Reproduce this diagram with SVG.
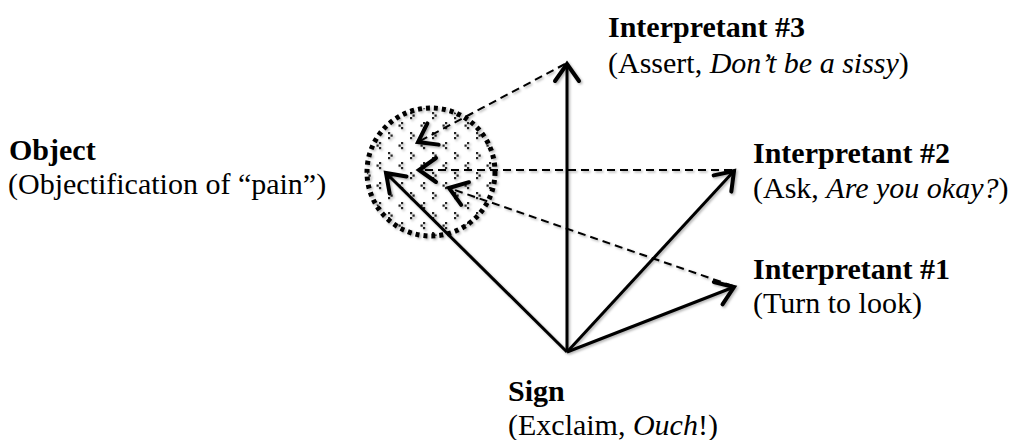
<svg xmlns="http://www.w3.org/2000/svg" width="1015" height="440" viewBox="0 0 1015 440">
<style>
.t{font-family:"Liberation Serif","Times New Roman",serif;font-size:30px;fill:#000}
.b{font-weight:bold}
.i{font-style:italic}
.solid{stroke:#000;stroke-width:3;fill:none;marker-end:url(#ah)}
.dash{stroke:#000;stroke-width:2;stroke-dasharray:8 5;fill:none;marker-end:url(#ah)}
</style>
<defs>
<marker id="ah" markerUnits="userSpaceOnUse" viewBox="-20 -15 24 30" markerWidth="24" markerHeight="30" refX="0" refY="0" orient="auto">
<path d="M -17 -12 L 0 0 L -17 12" fill="none" stroke="#000" stroke-width="4" stroke-linecap="round" stroke-linejoin="miter"/>
</marker>
<pattern id="dots" patternUnits="userSpaceOnUse" width="22" height="20">
<rect x="5" y="2" width="2.2" height="2.2" fill="#222"/>
<rect x="2.5" y="4.5" width="2.2" height="2.2" fill="#222"/>
<rect x="5" y="7" width="2.2" height="2.2" fill="#222"/>
<rect x="14" y="12" width="2.2" height="2.2" fill="#222"/>
<rect x="16.5" y="14.5" width="2.2" height="2.2" fill="#222"/>
<rect x="14" y="17" width="2.2" height="2.2" fill="#222"/>
</pattern>
<filter id="sh" x="-10%" y="-10%" width="130%" height="130%">
<feDropShadow dx="1.5" dy="1.5" stdDeviation="1.2" flood-color="#000" flood-opacity="0.3"/>
</filter>
</defs>
<g id="object-circle" filter="url(#sh)">
<circle cx="431" cy="172" r="64" fill="url(#dots)" stroke="#000" stroke-width="5" stroke-dasharray="4 4"/>
</g>
<g id="connectors" filter="url(#sh)">
<line class="solid" x1="567" y1="352" x2="567" y2="64"/>
<line class="solid" x1="567" y1="352" x2="734" y2="171"/>
<line class="solid" x1="567" y1="352" x2="734" y2="287"/>
<line class="solid" x1="567" y1="352" x2="386" y2="173"/>
<line class="dash" x1="565" y1="64" x2="418" y2="142"/>
<line class="dash" x1="732" y1="170" x2="419" y2="170"/>
<line class="dash" x1="733" y1="286" x2="449" y2="188"/>
</g>
<g id="interpretant3">
<text class="t b" x="608" y="37">Interpretant #3</text>
<text class="t" x="608" y="73">(Assert, <tspan class="i">Don’t be a sissy</tspan>)</text>
</g>
<g id="interpretant2">
<text class="t b" x="753" y="163">Interpretant #2</text>
<text class="t" x="753" y="198">(Ask, <tspan class="i">Are you okay?</tspan>)</text>
</g>
<g id="interpretant1">
<text class="t b" x="753" y="279">Interpretant #1</text>
<text class="t" x="753" y="313">(Turn to look)</text>
</g>
<g id="object">
<text class="t b" x="9" y="160">Object</text>
<text class="t" x="8" y="194">(Objectification of “pain”)</text>
</g>
<g id="sign">
<text class="t b" x="508" y="401">Sign</text>
<text class="t" x="508" y="435">(Exclaim, <tspan class="i">Ouch</tspan>!)</text>
</g>
</svg>
